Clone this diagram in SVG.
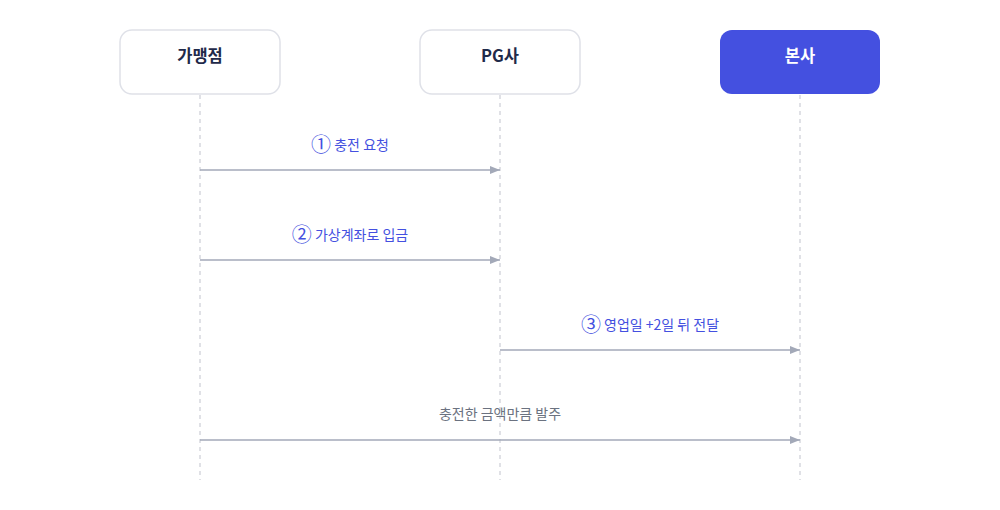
<svg xmlns="http://www.w3.org/2000/svg" width="1000" height="510" viewBox="0 0 1000 510">
<style>
.box{fill:#ffffff;stroke:#dfe1e8;stroke-width:1.5}
.boxm{fill:#4450e0;stroke:none}
.nt{font-family:"Noto Sans CJK KR","Noto Sans",sans-serif;font-size:16.5px;font-weight:700;fill:#1f2a4a;text-anchor:middle}
.ntw{fill:#ffffff}
.life{stroke:#d6d8de;stroke-width:1.5;stroke-dasharray:4 4;fill:none}
.msg{stroke:#a3a9b8;stroke-width:1.5;fill:none;marker-end:url(#ah)}
.lb{font-family:"Noto Sans CJK KR","Noto Sans",sans-serif;font-size:14px;fill:#4450e0;text-anchor:middle}
.lbg{fill:#6b7280}
.num{font-size:20px}
</style>
<defs>
<marker id="ah" viewBox="0 0 10 8" refX="10" refY="4" markerWidth="10" markerHeight="8" markerUnits="userSpaceOnUse" orient="auto">
<path d="M0,0 L10,4 L0,8 Z" fill="#a3a9b8"/>
</marker>
</defs>
<g id="lifelines">
<line class="life" x1="200" y1="95" x2="200" y2="480"/>
<line class="life" x1="500" y1="95" x2="500" y2="480"/>
<line class="life" x1="800" y1="95" x2="800" y2="480"/>
</g>
<g id="node-merchant">
<rect class="box" x="120" y="30" width="160" height="64" rx="12"/>
<text class="nt" x="200" y="62">가맹점</text>
</g>
<g id="node-pg">
<rect class="box" x="420" y="30" width="160" height="64" rx="12"/>
<text class="nt" x="500" y="62">PG사</text>
</g>
<g id="node-hq">
<rect class="boxm" x="720" y="30" width="160" height="64" rx="12"/>
<text class="nt ntw" x="800" y="62">본사</text>
</g>
<g id="connectors">
<line class="msg" x1="200" y1="170" x2="500" y2="170"/>
<text class="lb" x="350" y="150"><tspan class="num" dy="1.5">①</tspan><tspan dy="-1.5"> 충전 요청</tspan></text>
<line class="msg" x1="200" y1="260" x2="500" y2="260"/>
<text class="lb" x="350" y="240"><tspan class="num" dy="1.5">②</tspan><tspan dy="-1.5"> 가상계좌로 입금</tspan></text>
<line class="msg" x1="500" y1="350" x2="800" y2="350"/>
<text class="lb" x="650" y="330"><tspan class="num" dy="1.5">③</tspan><tspan dy="-1.5"> 영업일 +2일 뒤 전달</tspan></text>
<line class="msg" x1="200" y1="440" x2="800" y2="440"/>
<text class="lb lbg" x="500" y="419">충전한 금액만큼 발주</text>
</g>
</svg>
